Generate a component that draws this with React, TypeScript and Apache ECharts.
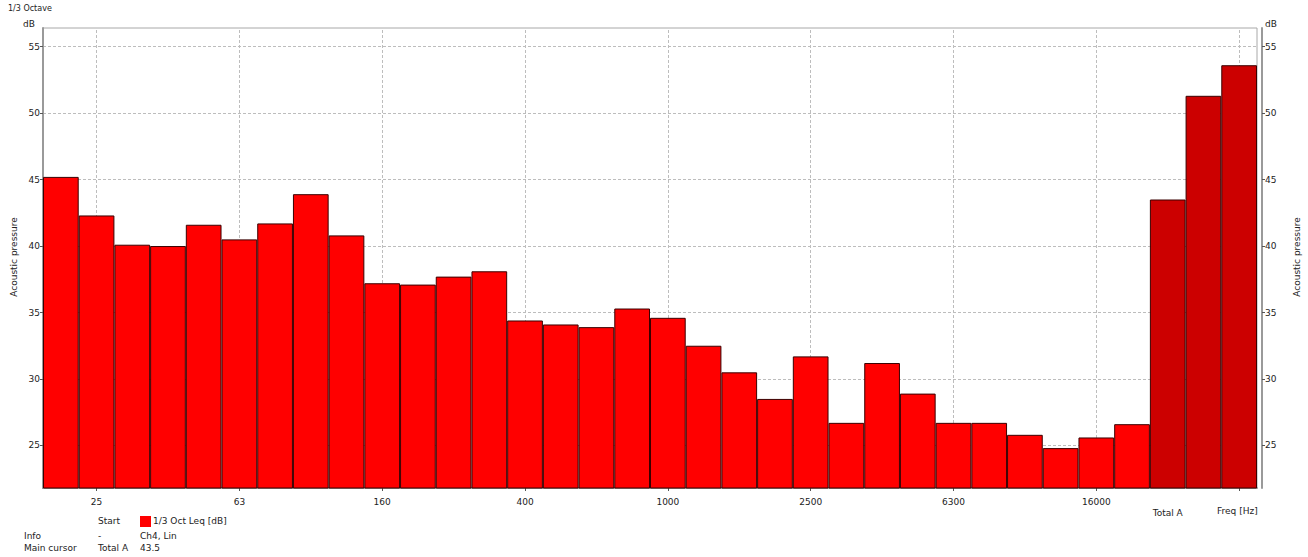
import React, { useEffect, useRef } from "react";
import * as echarts from "echarts";

const categories = [
  "20", "25", "31.5", "40", "50", "63", "80", "100", "125", "160", "200", "250", "315",
  "400", "500", "630", "800", "1000", "1250", "1600", "2000", "2500", "3150", "4000",
  "5000", "6300", "8000", "10000", "12500", "16000", "20000", "Total A", "Total C", "Total Z",
];
const levels = [
  45.2, 42.3, 40.1, 40.0, 41.6, 40.5, 41.7, 43.9, 40.8, 37.2, 37.1, 37.7, 38.1,
  34.4, 34.1, 33.9, 35.3, 34.6, 32.5, 30.5, 28.5, 31.7, 26.7, 31.2,
  28.9, 26.7, 26.7, 25.8, 24.8, 25.6, 26.6, 43.5, 51.3, 53.6,
];
const totalCount = 3;
const yTicks = [25, 30, 35, 40, 45, 50, 55];
const xGridCats = ["25", "63", "160", "400", "1000", "2500", "6300", "16000", "Total Z"];
const xLabelCats = ["25", "63", "160", "400", "1000", "2500", "6300", "16000", "Total A"];

const FONT = "'DejaVu Sans', sans-serif";

export default function App() {
  const ref = useRef<HTMLDivElement>(null);
  useEffect(() => {
    if (!ref.current) return;
    const chart = echarts.init(ref.current, undefined, { renderer: "svg" });
    const nBands = categories.length - totalCount;
    const gridColor = "#bdbdbd";
    const yAxisCommon = {
      type: "value",
      min: 21.8,
      max: 56.4,
      splitLine: { show: false },
      axisLine: { show: true, lineStyle: { color: "#9a9a9a", width: 2 } },
      axisTick: { show: true, length: 3, customValues: yTicks, lineStyle: { color: "#555" } },
      axisLabel: {
        customValues: yTicks,
        fontSize: 9,
        fontFamily: FONT,
        color: "#222",
        margin: 3,
      },
    };
    chart.setOption({
      animation: false,
      grid: {
        left: 43,
        right: 51,
        top: 28,
        bottom: 69,
        show: true,
        borderColor: "#a8a8a8",
        borderWidth: 1,
      },
      xAxis: {
        type: "category",
        data: categories,
        name: "Freq [Hz]",
        nameLocation: "end",
        nameGap: -40,
        nameTextStyle: {
          fontSize: 9,
          fontFamily: FONT,
          color: "#222",
          verticalAlign: "top",
          padding: [18, 0, 0, 0],
        },
        axisLine: { lineStyle: { color: "#9a9a9a", width: 2 } },
        axisTick: {
          show: true,
          alignWithLabel: true,
          length: 3,
          interval: (i: number) => xGridCats.includes(categories[i]),
          lineStyle: { color: "#555" },
        },
        axisLabel: {
          fontSize: 9,
          fontFamily: FONT,
          color: "#222",
          margin: 8,
          interval: (i: number) => xLabelCats.includes(categories[i]),
          formatter: (v: string) => (v.startsWith("Total") ? "\n" + v : v),
          lineHeight: 11,
        },
        splitLine: { show: false },
      },
      yAxis: [
        {
          ...yAxisCommon,
          position: "left",
          name: "dB",
          nameLocation: "end",
          nameGap: 0,
          nameTextStyle: { fontSize: 9, fontFamily: FONT, color: "#222", align: "right", verticalAlign: "bottom", padding: [0, 8, 0, 0] },
          axisLabel: { ...yAxisCommon.axisLabel },
        },
        {
          ...yAxisCommon,
          position: "right",
          offset: 5,
          name: "dB",
          nameLocation: "end",
          nameGap: 0,
          nameTextStyle: { fontSize: 9, fontFamily: FONT, color: "#222", align: "left", verticalAlign: "bottom", padding: [0, 0, 0, 3] },
          axisLine: { show: true, lineStyle: { color: "#9a9a9a", width: 2 } },
        },
      ],
      series: [
        {
          type: "bar",
          data: levels.map((v, i) => ({
            value: v,
            itemStyle: { color: i >= nBands ? "#cc0000" : "#ff0000" },
          })),
          barCategoryGap: 0,
          itemStyle: { borderColor: "#3a0000", borderWidth: 1 },
          silent: true,
          markLine: {
            z: 0,
            silent: true,
            symbol: "none",
            label: { show: false },
            lineStyle: { color: gridColor, type: [3, 2], width: 1 },
            data: [
              ...xGridCats.map((c) => ({ xAxis: c })),
              ...yTicks.map((t) => ({ yAxis: t })),
            ],
          },
        },
      ],
      graphic: [
        { type: "text", left: 8, top: 4, style: { text: "1/3 Octave", fontSize: 8, fontFamily: FONT, fill: "#222" } },
        {
          type: "text",
          x: 14,
          y: 257,
          rotation: Math.PI / 2,
          style: { text: "Acoustic pressure", fontSize: 9, fontFamily: FONT, fill: "#222", align: "center", verticalAlign: "middle" },
        },
        {
          type: "text",
          x: 1297,
          y: 257,
          rotation: Math.PI / 2,
          style: { text: "Acoustic pressure", fontSize: 9, fontFamily: FONT, fill: "#222", align: "center", verticalAlign: "middle" },
        },
        { type: "text", x: 98, y: 521, style: { text: "Start", fontSize: 9, fontFamily: FONT, fill: "#222", verticalAlign: "middle" } },
        { type: "rect", shape: { x: 140, y: 516, width: 11, height: 11 }, style: { fill: "#ff0000" } },
        { type: "text", x: 153, y: 521, style: { text: "1/3 Oct Leq [dB]", fontSize: 9, fontFamily: FONT, fill: "#222", verticalAlign: "middle" } },
        { type: "text", x: 24, y: 536, style: { text: "Info", fontSize: 9, fontFamily: FONT, fill: "#222", verticalAlign: "middle" } },
        { type: "text", x: 98, y: 536, style: { text: "-", fontSize: 9, fontFamily: FONT, fill: "#222", verticalAlign: "middle" } },
        { type: "text", x: 140, y: 536, style: { text: "Ch4, Lin", fontSize: 9, fontFamily: FONT, fill: "#222", verticalAlign: "middle" } },
        { type: "text", x: 24, y: 548, style: { text: "Main cursor", fontSize: 9, fontFamily: FONT, fill: "#222", verticalAlign: "middle" } },
        { type: "text", x: 98, y: 548, style: { text: "Total A", fontSize: 9, fontFamily: FONT, fill: "#222", verticalAlign: "middle" } },
        { type: "text", x: 140, y: 548, style: { text: String(levels[nBands]), fontSize: 9, fontFamily: FONT, fill: "#222", verticalAlign: "middle" } },
      ],
    });
    return () => chart.dispose();
  }, []);
  return (
    <div
      ref={ref}
      style={{ position: "fixed", left: 0, top: 0, width: 1308, height: 557, background: "#fff" }}
    />
  );
}
